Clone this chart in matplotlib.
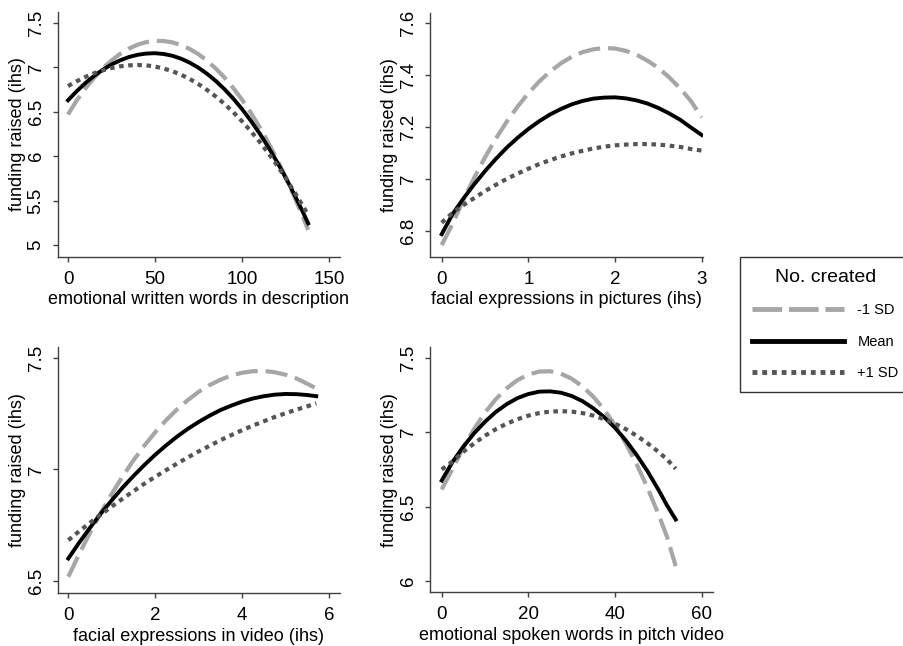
import matplotlib
matplotlib.use("Agg")
import matplotlib.pyplot as plt
from matplotlib.lines import Line2D

plt.rcParams['font.family'] = ['Liberation Sans', 'DejaVu Sans']

# emotional written words in description
words_x = [0, 5, 10, 15, 20, 25, 30, 35, 40, 45, 50, 55, 60, 65, 70, 75, 80, 85, 90,
           95, 100, 105, 110, 115, 120, 125, 130, 135, 138]
words_low = [6.47, 6.628, 6.764, 6.884, 6.989, 7.078, 7.153, 7.212, 7.256, 7.285, 7.299,
             7.297, 7.282, 7.251, 7.207, 7.148, 7.074, 6.986, 6.884, 6.767, 6.636, 6.491,
             6.331, 6.157, 5.968, 5.765, 5.548, 5.316, 5.17]
words_mean = [6.63, 6.732, 6.824, 6.905, 6.974, 7.033, 7.080, 7.117, 7.142, 7.156, 7.160,
              7.151, 7.131, 7.098, 7.053, 6.996, 6.927, 6.846, 6.753, 6.648, 6.531, 6.401,
              6.260, 6.106, 5.940, 5.762, 5.572, 5.370, 5.243]
words_high = [6.79, 6.844, 6.893, 6.934, 6.967, 6.993, 7.012, 7.023, 7.027, 7.023, 7.009,
              6.987, 6.957, 6.917, 6.869, 6.811, 6.745, 6.671, 6.587, 6.495, 6.393, 6.283,
              6.165, 6.037, 5.901, 5.755, 5.601, 5.439, 5.337]

# facial expressions in pictures (ihs)
pics_x = [0, 0.125, 0.25, 0.375, 0.5, 0.625, 0.75, 0.875, 1.0, 1.125, 1.25, 1.375, 1.5,
          1.625, 1.75, 1.875, 2.0, 2.125, 2.25, 2.375, 2.5, 2.625, 2.75, 2.875, 3.0]
pics_low = [6.745, 6.827, 6.919, 7.004, 7.083, 7.155, 7.220, 7.278, 7.330, 7.375, 7.413,
            7.445, 7.470, 7.488, 7.499, 7.504, 7.502, 7.493, 7.478, 7.455, 7.427, 7.391,
            7.349, 7.300, 7.237]
pics_mean = [6.787, 6.864, 6.924, 6.979, 7.030, 7.077, 7.120, 7.158, 7.192, 7.222, 7.248,
             7.269, 7.287, 7.300, 7.309, 7.313, 7.314, 7.310, 7.302, 7.290, 7.273, 7.252,
             7.228, 7.198, 7.169]
pics_high = [6.831, 6.869, 6.899, 6.926, 6.953, 6.977, 7.000, 7.020, 7.039, 7.057, 7.072,
             7.086, 7.098, 7.108, 7.117, 7.124, 7.129, 7.132, 7.134, 7.134, 7.132, 7.128,
             7.123, 7.115, 7.109]

# facial expressions in video (ihs)
video_x = [0, 0.25, 0.5, 0.75, 1.0, 1.25, 1.5, 1.75, 2.0, 2.25, 2.5, 2.75, 3.0, 3.25,
           3.5, 3.75, 4.0, 4.25, 4.5, 4.75, 5.0, 5.25, 5.5, 5.7]
video_low = [6.519, 6.621, 6.717, 6.807, 6.891, 6.969, 7.041, 7.107, 7.167, 7.221, 7.269,
             7.311, 7.348, 7.378, 7.402, 7.421, 7.433, 7.440, 7.441, 7.435, 7.424, 7.407,
             7.383, 7.363]
video_mean = [6.601, 6.672, 6.739, 6.803, 6.862, 6.919, 6.971, 7.020, 7.066, 7.108, 7.147,
              7.182, 7.213, 7.241, 7.266, 7.286, 7.304, 7.318, 7.328, 7.335, 7.338, 7.337,
              7.333, 7.328]
video_high = [6.683, 6.723, 6.761, 6.798, 6.834, 6.869, 6.903, 6.936, 6.967, 6.997, 7.026,
              7.054, 7.081, 7.106, 7.131, 7.154, 7.176, 7.197, 7.216, 7.235, 7.252, 7.268,
              7.283, 7.296]

# emotional spoken words in pitch video
spoken_x = [0, 2.5, 5, 7.5, 10, 12.5, 15, 17.5, 20, 22.5, 25, 27.5, 30, 32.5, 35, 37.5,
            40, 42.5, 45, 47.5, 50, 52, 54]
spoken_low = [6.615, 6.754, 6.897, 7.023, 7.132, 7.222, 7.295, 7.350, 7.387, 7.407, 7.409,
              7.393, 7.359, 7.307, 7.238, 7.151, 7.047, 6.924, 6.784, 6.626, 6.45, 6.297,
              6.10]
spoken_mean = [6.675, 6.800, 6.903, 6.993, 7.070, 7.136, 7.188, 7.229, 7.256, 7.272, 7.274,
               7.265, 7.243, 7.208, 7.160, 7.101, 7.029, 6.944, 6.846, 6.737, 6.614, 6.508,
               6.413]
spoken_high = [6.749, 6.803, 6.868, 6.925, 6.976, 7.020, 7.057, 7.087, 7.111, 7.128, 7.138,
               7.141, 7.138, 7.128, 7.111, 7.087, 7.057, 7.020, 6.976, 6.925, 6.868, 6.817,
               6.754]

legend_labels = ["-1 SD", "Mean", "+1 SD"]
legend_title = "No. created"
y_title = "funding raised (ihs)"

W, H = 904, 646
fig = plt.figure(figsize=(W / 100, H / 100), dpi=100)


def px_axes(left, top, right, bottom):
    return fig.add_axes([left / W, 1 - bottom / H, (right - left) / W, (bottom - top) / H])


low_style = dict(color='#a6a6a6', lw=3.0, dashes=(5.3, 1.9))
mean_style = dict(color='black', lw=2.8, solid_joinstyle='round')
high_style = dict(color='#555555', lw=3.0, dashes=(1.1, 1.1))

panels = [
    (words_x, words_low, words_mean, words_high, "emotional written words in description",
     (58, 12, 340, 257), (-5.75, 156.3), (4.865, 7.624), [0, 50, 100, 150], [5, 5.5, 6, 6.5, 7, 7.5]),
    (pics_x, pics_low, pics_mean, pics_high, "facial expressions in pictures (ihs)",
     (430, 12.7, 703, 257), (-0.135, 3.015), (6.699, 7.64), [0, 1, 2, 3], [6.8, 7, 7.2, 7.4, 7.6]),
    (video_x, video_low, video_mean, video_high, "facial expressions in video (ihs)",
     (58, 347.3, 340, 593.3), (-0.237, 6.246), (6.445, 7.547), [0, 2, 4, 6], [6.5, 7, 7.5]),
    (spoken_x, spoken_low, spoken_mean, spoken_high, "emotional spoken words in pitch video",
     (430, 347.3, 712.7, 592.3), (-2.7, 62.54), (5.924, 7.57), [0, 20, 40, 60], [6, 6.5, 7, 7.5]),
]

for x, lo, me, hi, xlabel, box, xlim, ylim, xt, yt in panels:
    ax = px_axes(*box)
    ax.plot(x, lo, **low_style)
    ax.plot(x, me, **mean_style)
    ax.plot(x, hi, **high_style)
    ax.set_xlim(*xlim)
    ax.set_ylim(*ylim)
    for s in ['top', 'right']:
        ax.spines[s].set_visible(False)
    for s in ['left', 'bottom']:
        ax.spines[s].set_color('#404040')
        ax.spines[s].set_linewidth(1.0)
    ax.set_xticks(xt)
    ax.set_xticklabels([f"{v:g}" for v in xt])
    ax.set_yticks(yt)
    ax.set_yticklabels([f"{v:g}" for v in yt], rotation=90, va='center')
    ax.tick_params(axis='both', direction='out', length=3.6, width=1.0,
                   color='#404040', labelsize=13.5)
    ax.tick_params(axis='x', pad=6.5)
    ax.tick_params(axis='y', pad=6)
    ax.set_xlabel(xlabel, fontsize=13, labelpad=2.5)
    ax.set_ylabel(y_title, fontsize=13, labelpad=1.5)

handles = [
    Line2D([], [], color='#a6a6a6', lw=3.5, dashes=(6.1, 1.4)),
    Line2D([], [], color='black', lw=3.5),
    Line2D([], [], color='#555555', lw=3.5, dashes=(1.0, 1.0)),
]
leg = fig.legend(handles, legend_labels, title=legend_title,
                 loc='upper left', bbox_to_anchor=(740 / W, 1 - 257 / H),
                 bbox_transform=fig.transFigure, frameon=True, fancybox=False,
                 edgecolor='black', fontsize=10.5, title_fontsize=14,
                 handlelength=6.3, handletextpad=0.95, labelspacing=1.2,
                 borderpad=0.8, borderaxespad=0)
leg.get_frame().set_linewidth(1.0)

fig.savefig("out.png", dpi=100, facecolor='white')
